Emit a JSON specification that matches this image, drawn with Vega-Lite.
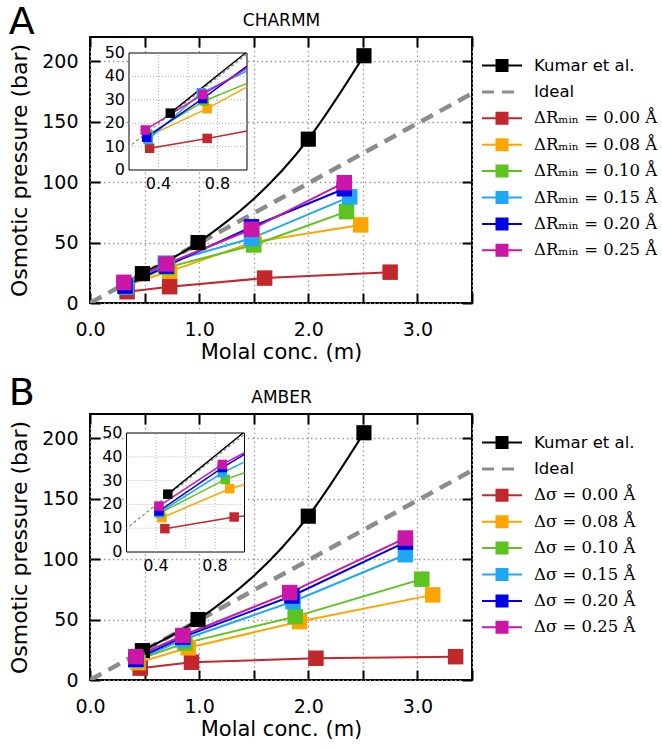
{
  "$schema": "https://vega.github.io/schema/vega-lite/v6.json",
  "background": "white",
  "padding": {"left": 7, "top": 3, "right": 0, "bottom": 0},
  "config": {
    "view": {"stroke": "black", "strokeWidth": 2},
    "font": "DejaVu Sans",
    "axis": {"labelColor": "black", "titleColor": "black", "tickColor": "black", "labelFont": "DejaVu Sans", "titleFont": "DejaVu Sans", "titleFontWeight": "normal"}
  },
  "spacing": 11,
  "resolve": {
    "scale": {"x": "independent", "y": "independent", "color": "independent", "fill": "independent", "shape": "independent"},
    "legend": {"fill": "independent", "shape": "independent", "color": "independent"}
  },
  "datasets": {
    "kumar": [
      {"m": 0.48, "p": 24.3}, {"m": 0.99, "p": 50}, {"m": 2.0, "p": 135.5}, {"m": 2.51, "p": 204.5}
    ],
    "ideal": [{"m": 0, "p": 0}, {"m": 3.5, "p": 173.3}],
    "idealInset": [{"m": 0.22, "p": 10.9}, {"m": 1.0, "p": 49.5}],
    "insetXTicks": [{"v": 0.4}, {"v": 0.6}, {"v": 0.8}],
    "insetXLabels": [{"v": 0.4}, {"v": 0.8}],
    "insetYTicks": [{"v": 10}, {"v": 20}, {"v": 30}, {"v": 40}],
    "insetYLabels": [{"v": 0}, {"v": 10}, {"v": 20}, {"v": 30}, {"v": 40}, {"v": 50}],
    "charmm": [
      {"series": "ΔRₘᵢₙ = 0.00 Å", "m": 0.34, "p": 9.3}, {"series": "ΔRₘᵢₙ = 0.00 Å", "m": 0.73, "p": 13.5}, {"series": "ΔRₘᵢₙ = 0.00 Å", "m": 1.6, "p": 20.6}, {"series": "ΔRₘᵢₙ = 0.00 Å", "m": 2.75, "p": 25.5},
      {"series": "ΔRₘᵢₙ = 0.08 Å", "m": 0.33, "p": 14.5}, {"series": "ΔRₘᵢₙ = 0.08 Å", "m": 0.73, "p": 26.2}, {"series": "ΔRₘᵢₙ = 0.08 Å", "m": 1.5, "p": 50.5}, {"series": "ΔRₘᵢₙ = 0.08 Å", "m": 2.48, "p": 64.6},
      {"series": "ΔRₘᵢₙ = 0.10 Å", "m": 0.33, "p": 15}, {"series": "ΔRₘᵢₙ = 0.10 Å", "m": 0.71, "p": 29.5}, {"series": "ΔRₘᵢₙ = 0.10 Å", "m": 1.5, "p": 48}, {"series": "ΔRₘᵢₙ = 0.10 Å", "m": 2.35, "p": 75.6},
      {"series": "ΔRₘᵢₙ = 0.15 Å", "m": 0.33, "p": 13}, {"series": "ΔRₘᵢₙ = 0.15 Å", "m": 0.69, "p": 33}, {"series": "ΔRₘᵢₙ = 0.15 Å", "m": 1.48, "p": 53.5}, {"series": "ΔRₘᵢₙ = 0.15 Å", "m": 2.38, "p": 87.8},
      {"series": "ΔRₘᵢₙ = 0.20 Å", "m": 0.32, "p": 14}, {"series": "ΔRₘᵢₙ = 0.20 Å", "m": 0.7, "p": 30.5}, {"series": "ΔRₘᵢₙ = 0.20 Å", "m": 1.48, "p": 63}, {"series": "ΔRₘᵢₙ = 0.20 Å", "m": 2.33, "p": 94.5},
      {"series": "ΔRₘᵢₙ = 0.25 Å", "m": 0.31, "p": 17.1}, {"series": "ΔRₘᵢₙ = 0.25 Å", "m": 0.7, "p": 32.3}, {"series": "ΔRₘᵢₙ = 0.25 Å", "m": 1.48, "p": 61}, {"series": "ΔRₘᵢₙ = 0.25 Å", "m": 2.33, "p": 99.5}
    ],
    "charmmInset": [
      {"series": "ΔRₘᵢₙ = 0.00 Å", "m": 0.34, "p": 9.3}, {"series": "ΔRₘᵢₙ = 0.00 Å", "m": 0.73, "p": 13.5}, {"series": "ΔRₘᵢₙ = 0.00 Å", "m": 1.0, "p": 16.7},
      {"series": "ΔRₘᵢₙ = 0.08 Å", "m": 0.33, "p": 14.5}, {"series": "ΔRₘᵢₙ = 0.08 Å", "m": 0.73, "p": 26.2}, {"series": "ΔRₘᵢₙ = 0.08 Å", "m": 1.0, "p": 35.5},
      {"series": "ΔRₘᵢₙ = 0.10 Å", "m": 0.33, "p": 15}, {"series": "ΔRₘᵢₙ = 0.10 Å", "m": 0.71, "p": 29.5}, {"series": "ΔRₘᵢₙ = 0.10 Å", "m": 1.0, "p": 37},
      {"series": "ΔRₘᵢₙ = 0.15 Å", "m": 0.33, "p": 13}, {"series": "ΔRₘᵢₙ = 0.15 Å", "m": 0.69, "p": 33}, {"series": "ΔRₘᵢₙ = 0.15 Å", "m": 1.0, "p": 42.3},
      {"series": "ΔRₘᵢₙ = 0.20 Å", "m": 0.32, "p": 14}, {"series": "ΔRₘᵢₙ = 0.20 Å", "m": 0.7, "p": 30.5}, {"series": "ΔRₘᵢₙ = 0.20 Å", "m": 1.0, "p": 44.4},
      {"series": "ΔRₘᵢₙ = 0.25 Å", "m": 0.31, "p": 17.1}, {"series": "ΔRₘᵢₙ = 0.25 Å", "m": 0.7, "p": 32.3}, {"series": "ΔRₘᵢₙ = 0.25 Å", "m": 1.0, "p": 43.4}
    ],
    "amber": [
      {"series": "Δσ = 0.00 Å", "m": 0.46, "p": 9.8}, {"series": "Δσ = 0.00 Å", "m": 0.93, "p": 14.7}, {"series": "Δσ = 0.00 Å", "m": 2.07, "p": 18}, {"series": "Δσ = 0.00 Å", "m": 3.35, "p": 19.3},
      {"series": "Δσ = 0.08 Å", "m": 0.44, "p": 14.4}, {"series": "Δσ = 0.08 Å", "m": 0.9, "p": 26.6}, {"series": "Δσ = 0.08 Å", "m": 1.92, "p": 48.3}, {"series": "Δσ = 0.08 Å", "m": 3.14, "p": 70.4},
      {"series": "Δσ = 0.10 Å", "m": 0.43, "p": 16.5}, {"series": "Δσ = 0.10 Å", "m": 0.87, "p": 30.5}, {"series": "Δσ = 0.10 Å", "m": 1.88, "p": 52.4}, {"series": "Δσ = 0.10 Å", "m": 3.04, "p": 83.4},
      {"series": "Δσ = 0.15 Å", "m": 0.42, "p": 16.5}, {"series": "Δσ = 0.15 Å", "m": 0.85, "p": 33.3}, {"series": "Δσ = 0.15 Å", "m": 1.86, "p": 64.9}, {"series": "Δσ = 0.15 Å", "m": 2.89, "p": 103.6},
      {"series": "Δσ = 0.20 Å", "m": 0.42, "p": 17.2}, {"series": "Δσ = 0.20 Å", "m": 0.85, "p": 35.5}, {"series": "Δσ = 0.20 Å", "m": 1.85, "p": 69.5}, {"series": "Δσ = 0.20 Å", "m": 2.89, "p": 114},
      {"series": "Δσ = 0.25 Å", "m": 0.42, "p": 19.3}, {"series": "Δσ = 0.25 Å", "m": 0.85, "p": 36.8}, {"series": "Δσ = 0.25 Å", "m": 1.83, "p": 72.3}, {"series": "Δσ = 0.25 Å", "m": 2.89, "p": 117.4}
    ],
    "amberInset": [
      {"series": "Δσ = 0.00 Å", "m": 0.46, "p": 9.8}, {"series": "Δσ = 0.00 Å", "m": 0.93, "p": 14.7}, {"series": "Δσ = 0.00 Å", "m": 1.0, "p": 15.1},
      {"series": "Δσ = 0.08 Å", "m": 0.44, "p": 14.4}, {"series": "Δσ = 0.08 Å", "m": 0.9, "p": 26.6}, {"series": "Δσ = 0.08 Å", "m": 1.0, "p": 28.4},
      {"series": "Δσ = 0.10 Å", "m": 0.43, "p": 16.5}, {"series": "Δσ = 0.10 Å", "m": 0.87, "p": 30.5}, {"series": "Δσ = 0.10 Å", "m": 1.0, "p": 33.3},
      {"series": "Δσ = 0.15 Å", "m": 0.42, "p": 16.5}, {"series": "Δσ = 0.15 Å", "m": 0.85, "p": 33.3}, {"series": "Δσ = 0.15 Å", "m": 1.0, "p": 37.9},
      {"series": "Δσ = 0.20 Å", "m": 0.42, "p": 17.2}, {"series": "Δσ = 0.20 Å", "m": 0.85, "p": 35.5}, {"series": "Δσ = 0.20 Å", "m": 1.0, "p": 41},
      {"series": "Δσ = 0.25 Å", "m": 0.42, "p": 19.3}, {"series": "Δσ = 0.25 Å", "m": 0.85, "p": 36.8}, {"series": "Δσ = 0.25 Å", "m": 1.0, "p": 41.7}
    ]
  },
  "vconcat": [
    {
      "title": {"text": "A", "anchor": "start", "frame": "bounds", "fontSize": 38, "font": "DejaVu Sans", "fontWeight": "normal", "color": "black", "offset": -31},
      "width": 382, "height": 266,
      "resolve": {"scale": {"x": "independent", "y": "independent"}},
      "layer": [
        {
          "resolve": {"axis": {"x": "independent", "y": "independent"}},
          "layer": [
            {"data": {"name": "ideal"}, "mark": {"type": "line", "stroke": "#8c8c8c", "strokeWidth": 4.5, "strokeDash": [13, 8], "clip": true},
             "encoding": {
               "x": {"field": "m", "type": "quantitative", "scale": {"domain": [0, 3.5], "nice": false, "zero": false},
                     "axis": {"orient": "bottom", "values": [0, 0.5, 1, 1.5, 2, 2.5, 3, 3.5], "labelExpr": "datum.value % 1 == 0 ? format(datum.value, '.1f') : ''", "tickSize": -10, "tickWidth": 2, "labelPadding": 27, "domain": false, "grid": true, "gridDash": [1.5, 3], "gridColor": "#999999", "gridWidth": 1.3, "labelFontSize": 19, "labelFlush": false, "labelOverlap": false, "title": "Molal conc. (m)", "titleFontSize": 21, "titlePadding": 2}},
               "y": {"field": "p", "type": "quantitative", "scale": {"domain": [0, 220], "nice": false, "zero": false},
                     "axis": {"orient": "left", "values": [0, 50, 100, 150, 200], "tickSize": -10, "tickWidth": 2, "labelPadding": 22, "domain": false, "grid": true, "gridDash": [1.5, 3], "gridColor": "#999999", "gridWidth": 1.3, "labelFontSize": 19, "labelFlush": false, "labelOverlap": false, "title": "Osmotic pressure (bar)", "titleFontSize": 22, "titlePadding": 10}}
             }},
            {"data": {"name": "kumar"}, "mark": {"type": "line", "stroke": "black", "strokeWidth": 2.2, "interpolate": "monotone"},
             "encoding": {
               "x": {"field": "m", "type": "quantitative", "scale": {"domain": [0, 3.5], "nice": false, "zero": false},
                     "axis": {"orient": "top", "values": [0, 0.5, 1, 1.5, 2, 2.5, 3, 3.5], "labels": false, "tickSize": -10, "tickWidth": 2, "domain": false, "grid": false, "title": "CHARMM", "titleFontSize": 17, "titlePadding": 7}},
               "y": {"field": "p", "type": "quantitative", "scale": {"domain": [0, 220], "nice": false, "zero": false},
                     "axis": {"orient": "right", "values": [0, 50, 100, 150, 200], "labels": false, "tickSize": -10, "tickWidth": 2, "domain": false, "grid": false, "title": null}}
             }},
            {"data": {"name": "charmm"}, "mark": {"type": "line", "strokeWidth": 2},
             "encoding": {
               "x": {"field": "m", "type": "quantitative", "scale": {"domain": [0, 3.5], "nice": false, "zero": false}, "axis": null},
               "y": {"field": "p", "type": "quantitative", "scale": {"domain": [0, 220], "nice": false, "zero": false}, "axis": null},
               "color": {"field": "series", "type": "nominal", "legend": null, "scale": {"domain": ["ΔRₘᵢₙ = 0.00 Å", "ΔRₘᵢₙ = 0.08 Å", "ΔRₘᵢₙ = 0.10 Å", "ΔRₘᵢₙ = 0.15 Å", "ΔRₘᵢₙ = 0.20 Å", "ΔRₘᵢₙ = 0.25 Å"], "range": ["#c1272d", "#ffa500", "#5cc41e", "#1ea8f5", "#0000e6", "#cc16a8"]}}
             }},
            {"data": {"name": "kumar"}, "mark": {"type": "point", "shape": "square", "filled": true, "color": "black", "size": 230, "opacity": 1},
             "encoding": {
               "x": {"field": "m", "type": "quantitative", "scale": {"domain": [0, 3.5], "nice": false, "zero": false}, "axis": null},
               "y": {"field": "p", "type": "quantitative", "scale": {"domain": [0, 220], "nice": false, "zero": false}, "axis": null}
             }},
            {"data": {"name": "charmm"}, "mark": {"type": "point", "shape": "square", "filled": true, "size": 240, "opacity": 1},
             "encoding": {
               "x": {"field": "m", "type": "quantitative", "scale": {"domain": [0, 3.5], "nice": false, "zero": false}, "axis": null},
               "y": {"field": "p", "type": "quantitative", "scale": {"domain": [0, 220], "nice": false, "zero": false}, "axis": null},
               "color": {"field": "series", "type": "nominal", "legend": null, "scale": {"domain": ["ΔRₘᵢₙ = 0.00 Å", "ΔRₘᵢₙ = 0.08 Å", "ΔRₘᵢₙ = 0.10 Å", "ΔRₘᵢₙ = 0.15 Å", "ΔRₘᵢₙ = 0.20 Å", "ΔRₘᵢₙ = 0.25 Å"], "range": ["#c1272d", "#ffa500", "#5cc41e", "#1ea8f5", "#0000e6", "#cc16a8"]}}
             }},
            {"data": {"name": "charmm"}, "mark": {"type": "point", "filled": true, "clip": true, "opacity": 1},
             "encoding": {
               "x": {"datum": -1, "type": "quantitative", "scale": {"domain": [0, 3.5], "nice": false, "zero": false}, "axis": null},
               "y": {"datum": -10, "type": "quantitative", "scale": {"domain": [0, 220], "nice": false, "zero": false}, "axis": null},
               "fill": {"field": "series", "type": "nominal",
                        "scale": {"domain": ["Kumar et al.", "Ideal", "ΔRₘᵢₙ = 0.00 Å", "ΔRₘᵢₙ = 0.08 Å", "ΔRₘᵢₙ = 0.10 Å", "ΔRₘᵢₙ = 0.15 Å", "ΔRₘᵢₙ = 0.20 Å", "ΔRₘᵢₙ = 0.25 Å"], "range": ["black", "#8c8c8c", "#c1272d", "#ffa500", "#5cc41e", "#1ea8f5", "#0000e6", "#cc16a8"]},
                        "legend": {"orient": "none", "legendX": 402, "legendY": 18.5, "title": null, "symbolSize": 400, "labelOffset": 22, "labelFontSize": 16.5, "labelFont": "DejaVu Sans", "labelColor": "black", "rowPadding": 7.4, "padding": 0, "symbolStrokeWidth": 0, "symbolOpacity": 1, "labelLimit": 400,
                                   "encode": {"labels": {"update": {"font": {"signal": "indexof(datum.label, '=') >= 0 ? 'DejaVu Serif' : 'DejaVu Sans'"}}}}}},
               "shape": {"field": "series", "type": "nominal",
                         "scale": {"domain": ["Kumar et al.", "Ideal", "ΔRₘᵢₙ = 0.00 Å", "ΔRₘᵢₙ = 0.08 Å", "ΔRₘᵢₙ = 0.10 Å", "ΔRₘᵢₙ = 0.15 Å", "ΔRₘᵢₙ = 0.20 Å", "ΔRₘᵢₙ = 0.25 Å"],
                                   "range": ["M-2,-0.1H2V0.1H-2Z M-0.65,-0.65H0.65V0.65H-0.65Z", "M-2,-0.15H-0.8V0.15H-2Z M0,-0.15H1.2V0.15H0Z", "M-2,-0.1H2V0.1H-2Z M-0.65,-0.65H0.65V0.65H-0.65Z", "M-2,-0.1H2V0.1H-2Z M-0.65,-0.65H0.65V0.65H-0.65Z", "M-2,-0.1H2V0.1H-2Z M-0.65,-0.65H0.65V0.65H-0.65Z", "M-2,-0.1H2V0.1H-2Z M-0.65,-0.65H0.65V0.65H-0.65Z", "M-2,-0.1H2V0.1H-2Z M-0.65,-0.65H0.65V0.65H-0.65Z", "M-2,-0.1H2V0.1H-2Z M-0.65,-0.65H0.65V0.65H-0.65Z"]},
                         "legend": {"orient": "none", "legendX": 402, "legendY": 18.5, "title": null, "symbolSize": 400, "labelOffset": 22, "labelFontSize": 16.5, "labelFont": "DejaVu Sans", "labelColor": "black", "rowPadding": 7.4, "padding": 0, "symbolStrokeWidth": 0, "symbolOpacity": 1, "labelLimit": 400,
                                    "encode": {"labels": {"update": {"font": {"signal": "indexof(datum.label, '=') >= 0 ? 'DejaVu Serif' : 'DejaVu Sans'"}}}}}}
             }}
          ]
        },
        {
          "layer": [
            {"data": {"values": [{}]}, "mark": {"type": "rect", "fill": "white", "stroke": "black", "strokeWidth": 1},
             "encoding": {
               "x": {"datum": 0.2, "type": "quantitative", "scale": {"domain": [0.2, 1.0], "range": [39, 157], "nice": false, "zero": false}, "axis": null},
               "x2": {"datum": 1.0},
               "y": {"datum": 0, "type": "quantitative", "scale": {"domain": [0, 50], "range": [133, 16], "nice": false, "zero": false}, "axis": null},
               "y2": {"datum": 50}
             }},
            {"data": {"name": "insetXTicks"}, "mark": {"type": "rule", "stroke": "#b0b0b0", "strokeDash": [1, 2], "strokeWidth": 1},
             "encoding": {
               "x": {"field": "v", "type": "quantitative", "scale": {"domain": [0.2, 1.0], "range": [39, 157], "nice": false, "zero": false}, "axis": null},
               "y": {"datum": 0, "type": "quantitative", "scale": {"domain": [0, 50], "range": [133, 16], "nice": false, "zero": false}, "axis": null},
               "y2": {"datum": 50}
             }},
            {"data": {"name": "insetYTicks"}, "mark": {"type": "rule", "stroke": "#b0b0b0", "strokeDash": [1, 2], "strokeWidth": 1},
             "encoding": {
               "y": {"field": "v", "type": "quantitative", "scale": {"domain": [0, 50], "range": [133, 16], "nice": false, "zero": false}, "axis": null},
               "x": {"datum": 0.2, "type": "quantitative", "scale": {"domain": [0.2, 1.0], "range": [39, 157], "nice": false, "zero": false}, "axis": null},
               "x2": {"datum": 1.0}
             }},
            {"data": {"name": "insetXLabels"}, "mark": {"type": "text", "baseline": "top", "dy": 6, "fontSize": 16, "font": "DejaVu Sans", "color": "black"},
             "encoding": {
               "x": {"field": "v", "type": "quantitative", "scale": {"domain": [0.2, 1.0], "range": [39, 157], "nice": false, "zero": false}, "axis": null},
               "y": {"datum": 0, "type": "quantitative", "scale": {"domain": [0, 50], "range": [133, 16], "nice": false, "zero": false}, "axis": null},
               "text": {"field": "v", "type": "quantitative", "format": ".1f"}
             }},
            {"data": {"name": "insetYLabels"}, "mark": {"type": "text", "align": "right", "baseline": "middle", "dx": -4, "fontSize": 16, "font": "DejaVu Sans", "color": "black"},
             "encoding": {
               "y": {"field": "v", "type": "quantitative", "scale": {"domain": [0, 50], "range": [133, 16], "nice": false, "zero": false}, "axis": null},
               "x": {"datum": 0.2, "type": "quantitative", "scale": {"domain": [0.2, 1.0], "range": [39, 157], "nice": false, "zero": false}, "axis": null},
               "text": {"field": "v", "type": "quantitative", "format": "d"}
             }},
            {"data": {"name": "idealInset"}, "mark": {"type": "line", "stroke": "#8c8c8c", "strokeWidth": 1.3, "strokeDash": [3, 2.5]},
             "encoding": {
               "x": {"field": "m", "type": "quantitative", "scale": {"domain": [0.2, 1.0], "range": [39, 157], "nice": false, "zero": false}, "axis": null},
               "y": {"field": "p", "type": "quantitative", "scale": {"domain": [0, 50], "range": [133, 16], "nice": false, "zero": false}, "axis": null}
             }},
            {"data": {"name": "kumar"}, "transform": [{"filter": "datum.m <= 1"}], "mark": {"type": "line", "stroke": "black", "strokeWidth": 1.5},
             "encoding": {
               "x": {"field": "m", "type": "quantitative", "scale": {"domain": [0.2, 1.0], "range": [39, 157], "nice": false, "zero": false}, "axis": null},
               "y": {"field": "p", "type": "quantitative", "scale": {"domain": [0, 50], "range": [133, 16], "nice": false, "zero": false}, "axis": null}
             }},
            {"data": {"name": "charmmInset"}, "mark": {"type": "line", "strokeWidth": 1.5},
             "encoding": {
               "x": {"field": "m", "type": "quantitative", "scale": {"domain": [0.2, 1.0], "range": [39, 157], "nice": false, "zero": false}, "axis": null},
               "y": {"field": "p", "type": "quantitative", "scale": {"domain": [0, 50], "range": [133, 16], "nice": false, "zero": false}, "axis": null},
               "color": {"field": "series", "type": "nominal", "legend": null, "scale": {"domain": ["ΔRₘᵢₙ = 0.00 Å", "ΔRₘᵢₙ = 0.08 Å", "ΔRₘᵢₙ = 0.10 Å", "ΔRₘᵢₙ = 0.15 Å", "ΔRₘᵢₙ = 0.20 Å", "ΔRₘᵢₙ = 0.25 Å"], "range": ["#c1272d", "#ffa500", "#5cc41e", "#1ea8f5", "#0000e6", "#cc16a8"]}}
             }},
            {"data": {"name": "kumar"}, "transform": [{"filter": "datum.m < 0.95"}], "mark": {"type": "point", "shape": "square", "filled": true, "color": "black", "size": 90, "opacity": 1},
             "encoding": {
               "x": {"field": "m", "type": "quantitative", "scale": {"domain": [0.2, 1.0], "range": [39, 157], "nice": false, "zero": false}, "axis": null},
               "y": {"field": "p", "type": "quantitative", "scale": {"domain": [0, 50], "range": [133, 16], "nice": false, "zero": false}, "axis": null}
             }},
            {"data": {"name": "charmm"}, "transform": [{"filter": "datum.m < 0.95"}], "mark": {"type": "point", "shape": "square", "filled": true, "size": 90, "opacity": 1},
             "encoding": {
               "x": {"field": "m", "type": "quantitative", "scale": {"domain": [0.2, 1.0], "range": [39, 157], "nice": false, "zero": false}, "axis": null},
               "y": {"field": "p", "type": "quantitative", "scale": {"domain": [0, 50], "range": [133, 16], "nice": false, "zero": false}, "axis": null},
               "color": {"field": "series", "type": "nominal", "legend": null, "scale": {"domain": ["ΔRₘᵢₙ = 0.00 Å", "ΔRₘᵢₙ = 0.08 Å", "ΔRₘᵢₙ = 0.10 Å", "ΔRₘᵢₙ = 0.15 Å", "ΔRₘᵢₙ = 0.20 Å", "ΔRₘᵢₙ = 0.25 Å"], "range": ["#c1272d", "#ffa500", "#5cc41e", "#1ea8f5", "#0000e6", "#cc16a8"]}}
             }}
          ]
        }
      ]
    },
    {
      "title": {"text": "B", "anchor": "start", "frame": "bounds", "fontSize": 38, "font": "DejaVu Sans", "fontWeight": "normal", "color": "black", "offset": -25},
      "width": 382, "height": 266,
      "resolve": {"scale": {"x": "independent", "y": "independent"}},
      "layer": [
        {
          "resolve": {"axis": {"x": "independent", "y": "independent"}},
          "layer": [
            {"data": {"name": "ideal"}, "mark": {"type": "line", "stroke": "#8c8c8c", "strokeWidth": 4.5, "strokeDash": [13, 8], "clip": true},
             "encoding": {
               "x": {"field": "m", "type": "quantitative", "scale": {"domain": [0, 3.5], "nice": false, "zero": false},
                     "axis": {"orient": "bottom", "values": [0, 0.5, 1, 1.5, 2, 2.5, 3, 3.5], "labelExpr": "datum.value % 1 == 0 ? format(datum.value, '.1f') : ''", "tickSize": -10, "tickWidth": 2, "labelPadding": 27, "domain": false, "grid": true, "gridDash": [1.5, 3], "gridColor": "#999999", "gridWidth": 1.3, "labelFontSize": 19, "labelFlush": false, "labelOverlap": false, "title": "Molal conc. (m)", "titleFontSize": 21, "titlePadding": 2}},
               "y": {"field": "p", "type": "quantitative", "scale": {"domain": [0, 220], "nice": false, "zero": false},
                     "axis": {"orient": "left", "values": [0, 50, 100, 150, 200], "tickSize": -10, "tickWidth": 2, "labelPadding": 22, "domain": false, "grid": true, "gridDash": [1.5, 3], "gridColor": "#999999", "gridWidth": 1.3, "labelFontSize": 19, "labelFlush": false, "labelOverlap": false, "title": "Osmotic pressure (bar)", "titleFontSize": 22, "titlePadding": 10}}
             }},
            {"data": {"name": "kumar"}, "mark": {"type": "line", "stroke": "black", "strokeWidth": 2.2, "interpolate": "monotone"},
             "encoding": {
               "x": {"field": "m", "type": "quantitative", "scale": {"domain": [0, 3.5], "nice": false, "zero": false},
                     "axis": {"orient": "top", "values": [0, 0.5, 1, 1.5, 2, 2.5, 3, 3.5], "labels": false, "tickSize": -10, "tickWidth": 2, "domain": false, "grid": false, "title": "AMBER", "titleFontSize": 17, "titlePadding": 7}},
               "y": {"field": "p", "type": "quantitative", "scale": {"domain": [0, 220], "nice": false, "zero": false},
                     "axis": {"orient": "right", "values": [0, 50, 100, 150, 200], "labels": false, "tickSize": -10, "tickWidth": 2, "domain": false, "grid": false, "title": null}}
             }},
            {"data": {"name": "amber"}, "mark": {"type": "line", "strokeWidth": 2},
             "encoding": {
               "x": {"field": "m", "type": "quantitative", "scale": {"domain": [0, 3.5], "nice": false, "zero": false}, "axis": null},
               "y": {"field": "p", "type": "quantitative", "scale": {"domain": [0, 220], "nice": false, "zero": false}, "axis": null},
               "color": {"field": "series", "type": "nominal", "legend": null, "scale": {"domain": ["Δσ = 0.00 Å", "Δσ = 0.08 Å", "Δσ = 0.10 Å", "Δσ = 0.15 Å", "Δσ = 0.20 Å", "Δσ = 0.25 Å"], "range": ["#c1272d", "#ffa500", "#5cc41e", "#1ea8f5", "#0000e6", "#cc16a8"]}}
             }},
            {"data": {"name": "kumar"}, "mark": {"type": "point", "shape": "square", "filled": true, "color": "black", "size": 230, "opacity": 1},
             "encoding": {
               "x": {"field": "m", "type": "quantitative", "scale": {"domain": [0, 3.5], "nice": false, "zero": false}, "axis": null},
               "y": {"field": "p", "type": "quantitative", "scale": {"domain": [0, 220], "nice": false, "zero": false}, "axis": null}
             }},
            {"data": {"name": "amber"}, "mark": {"type": "point", "shape": "square", "filled": true, "size": 240, "opacity": 1},
             "encoding": {
               "x": {"field": "m", "type": "quantitative", "scale": {"domain": [0, 3.5], "nice": false, "zero": false}, "axis": null},
               "y": {"field": "p", "type": "quantitative", "scale": {"domain": [0, 220], "nice": false, "zero": false}, "axis": null},
               "color": {"field": "series", "type": "nominal", "legend": null, "scale": {"domain": ["Δσ = 0.00 Å", "Δσ = 0.08 Å", "Δσ = 0.10 Å", "Δσ = 0.15 Å", "Δσ = 0.20 Å", "Δσ = 0.25 Å"], "range": ["#c1272d", "#ffa500", "#5cc41e", "#1ea8f5", "#0000e6", "#cc16a8"]}}
             }},
            {"data": {"name": "amber"}, "mark": {"type": "point", "filled": true, "clip": true, "opacity": 1},
             "encoding": {
               "x": {"datum": -1, "type": "quantitative", "scale": {"domain": [0, 3.5], "nice": false, "zero": false}, "axis": null},
               "y": {"datum": -10, "type": "quantitative", "scale": {"domain": [0, 220], "nice": false, "zero": false}, "axis": null},
               "fill": {"field": "series", "type": "nominal",
                        "scale": {"domain": ["Kumar et al.", "Ideal", "Δσ = 0.00 Å", "Δσ = 0.08 Å", "Δσ = 0.10 Å", "Δσ = 0.15 Å", "Δσ = 0.20 Å", "Δσ = 0.25 Å"], "range": ["black", "#8c8c8c", "#c1272d", "#ffa500", "#5cc41e", "#1ea8f5", "#0000e6", "#cc16a8"]},
                        "legend": {"orient": "none", "legendX": 402, "legendY": 18.5, "title": null, "symbolSize": 400, "labelOffset": 22, "labelFontSize": 16.5, "labelFont": "DejaVu Sans", "labelColor": "black", "rowPadding": 7.4, "padding": 0, "symbolStrokeWidth": 0, "symbolOpacity": 1, "labelLimit": 400,
                                   "encode": {"labels": {"update": {"font": {"signal": "indexof(datum.label, '=') >= 0 ? 'DejaVu Serif' : 'DejaVu Sans'"}}}}}},
               "shape": {"field": "series", "type": "nominal",
                         "scale": {"domain": ["Kumar et al.", "Ideal", "Δσ = 0.00 Å", "Δσ = 0.08 Å", "Δσ = 0.10 Å", "Δσ = 0.15 Å", "Δσ = 0.20 Å", "Δσ = 0.25 Å"],
                                   "range": ["M-2,-0.1H2V0.1H-2Z M-0.65,-0.65H0.65V0.65H-0.65Z", "M-2,-0.15H-0.8V0.15H-2Z M0,-0.15H1.2V0.15H0Z", "M-2,-0.1H2V0.1H-2Z M-0.65,-0.65H0.65V0.65H-0.65Z", "M-2,-0.1H2V0.1H-2Z M-0.65,-0.65H0.65V0.65H-0.65Z", "M-2,-0.1H2V0.1H-2Z M-0.65,-0.65H0.65V0.65H-0.65Z", "M-2,-0.1H2V0.1H-2Z M-0.65,-0.65H0.65V0.65H-0.65Z", "M-2,-0.1H2V0.1H-2Z M-0.65,-0.65H0.65V0.65H-0.65Z", "M-2,-0.1H2V0.1H-2Z M-0.65,-0.65H0.65V0.65H-0.65Z"]},
                         "legend": {"orient": "none", "legendX": 402, "legendY": 18.5, "title": null, "symbolSize": 400, "labelOffset": 22, "labelFontSize": 16.5, "labelFont": "DejaVu Sans", "labelColor": "black", "rowPadding": 7.4, "padding": 0, "symbolStrokeWidth": 0, "symbolOpacity": 1, "labelLimit": 400,
                                    "encode": {"labels": {"update": {"font": {"signal": "indexof(datum.label, '=') >= 0 ? 'DejaVu Serif' : 'DejaVu Sans'"}}}}}}
             }}
          ]
        },
        {
          "layer": [
            {"data": {"values": [{}]}, "mark": {"type": "rect", "fill": "white", "stroke": "black", "strokeWidth": 1},
             "encoding": {
               "x": {"datum": 0.2, "type": "quantitative", "scale": {"domain": [0.2, 1.0], "range": [36.5, 154.5], "nice": false, "zero": false}, "axis": null},
               "x2": {"datum": 1.0},
               "y": {"datum": 0, "type": "quantitative", "scale": {"domain": [0, 50], "range": [138, 19], "nice": false, "zero": false}, "axis": null},
               "y2": {"datum": 50}
             }},
            {"data": {"name": "insetXTicks"}, "mark": {"type": "rule", "stroke": "#b0b0b0", "strokeDash": [1, 2], "strokeWidth": 1},
             "encoding": {
               "x": {"field": "v", "type": "quantitative", "scale": {"domain": [0.2, 1.0], "range": [36.5, 154.5], "nice": false, "zero": false}, "axis": null},
               "y": {"datum": 0, "type": "quantitative", "scale": {"domain": [0, 50], "range": [138, 19], "nice": false, "zero": false}, "axis": null},
               "y2": {"datum": 50}
             }},
            {"data": {"name": "insetYTicks"}, "mark": {"type": "rule", "stroke": "#b0b0b0", "strokeDash": [1, 2], "strokeWidth": 1},
             "encoding": {
               "y": {"field": "v", "type": "quantitative", "scale": {"domain": [0, 50], "range": [138, 19], "nice": false, "zero": false}, "axis": null},
               "x": {"datum": 0.2, "type": "quantitative", "scale": {"domain": [0.2, 1.0], "range": [36.5, 154.5], "nice": false, "zero": false}, "axis": null},
               "x2": {"datum": 1.0}
             }},
            {"data": {"name": "insetXLabels"}, "mark": {"type": "text", "baseline": "top", "dy": 6, "fontSize": 16, "font": "DejaVu Sans", "color": "black"},
             "encoding": {
               "x": {"field": "v", "type": "quantitative", "scale": {"domain": [0.2, 1.0], "range": [36.5, 154.5], "nice": false, "zero": false}, "axis": null},
               "y": {"datum": 0, "type": "quantitative", "scale": {"domain": [0, 50], "range": [138, 19], "nice": false, "zero": false}, "axis": null},
               "text": {"field": "v", "type": "quantitative", "format": ".1f"}
             }},
            {"data": {"name": "insetYLabels"}, "mark": {"type": "text", "align": "right", "baseline": "middle", "dx": -4, "fontSize": 16, "font": "DejaVu Sans", "color": "black"},
             "encoding": {
               "y": {"field": "v", "type": "quantitative", "scale": {"domain": [0, 50], "range": [138, 19], "nice": false, "zero": false}, "axis": null},
               "x": {"datum": 0.2, "type": "quantitative", "scale": {"domain": [0.2, 1.0], "range": [36.5, 154.5], "nice": false, "zero": false}, "axis": null},
               "text": {"field": "v", "type": "quantitative", "format": "d"}
             }},
            {"data": {"name": "idealInset"}, "mark": {"type": "line", "stroke": "#8c8c8c", "strokeWidth": 1.3, "strokeDash": [3, 2.5]},
             "encoding": {
               "x": {"field": "m", "type": "quantitative", "scale": {"domain": [0.2, 1.0], "range": [36.5, 154.5], "nice": false, "zero": false}, "axis": null},
               "y": {"field": "p", "type": "quantitative", "scale": {"domain": [0, 50], "range": [138, 19], "nice": false, "zero": false}, "axis": null}
             }},
            {"data": {"name": "kumar"}, "transform": [{"filter": "datum.m <= 1"}], "mark": {"type": "line", "stroke": "black", "strokeWidth": 1.5},
             "encoding": {
               "x": {"field": "m", "type": "quantitative", "scale": {"domain": [0.2, 1.0], "range": [36.5, 154.5], "nice": false, "zero": false}, "axis": null},
               "y": {"field": "p", "type": "quantitative", "scale": {"domain": [0, 50], "range": [138, 19], "nice": false, "zero": false}, "axis": null}
             }},
            {"data": {"name": "amberInset"}, "mark": {"type": "line", "strokeWidth": 1.5},
             "encoding": {
               "x": {"field": "m", "type": "quantitative", "scale": {"domain": [0.2, 1.0], "range": [36.5, 154.5], "nice": false, "zero": false}, "axis": null},
               "y": {"field": "p", "type": "quantitative", "scale": {"domain": [0, 50], "range": [138, 19], "nice": false, "zero": false}, "axis": null},
               "color": {"field": "series", "type": "nominal", "legend": null, "scale": {"domain": ["Δσ = 0.00 Å", "Δσ = 0.08 Å", "Δσ = 0.10 Å", "Δσ = 0.15 Å", "Δσ = 0.20 Å", "Δσ = 0.25 Å"], "range": ["#c1272d", "#ffa500", "#5cc41e", "#1ea8f5", "#0000e6", "#cc16a8"]}}
             }},
            {"data": {"name": "kumar"}, "transform": [{"filter": "datum.m < 0.95"}], "mark": {"type": "point", "shape": "square", "filled": true, "color": "black", "size": 90, "opacity": 1},
             "encoding": {
               "x": {"field": "m", "type": "quantitative", "scale": {"domain": [0.2, 1.0], "range": [36.5, 154.5], "nice": false, "zero": false}, "axis": null},
               "y": {"field": "p", "type": "quantitative", "scale": {"domain": [0, 50], "range": [138, 19], "nice": false, "zero": false}, "axis": null}
             }},
            {"data": {"name": "amber"}, "transform": [{"filter": "datum.m < 0.95"}], "mark": {"type": "point", "shape": "square", "filled": true, "size": 90, "opacity": 1},
             "encoding": {
               "x": {"field": "m", "type": "quantitative", "scale": {"domain": [0.2, 1.0], "range": [36.5, 154.5], "nice": false, "zero": false}, "axis": null},
               "y": {"field": "p", "type": "quantitative", "scale": {"domain": [0, 50], "range": [138, 19], "nice": false, "zero": false}, "axis": null},
               "color": {"field": "series", "type": "nominal", "legend": null, "scale": {"domain": ["Δσ = 0.00 Å", "Δσ = 0.08 Å", "Δσ = 0.10 Å", "Δσ = 0.15 Å", "Δσ = 0.20 Å", "Δσ = 0.25 Å"], "range": ["#c1272d", "#ffa500", "#5cc41e", "#1ea8f5", "#0000e6", "#cc16a8"]}}
             }}
          ]
        }
      ]
    }
  ]
}
